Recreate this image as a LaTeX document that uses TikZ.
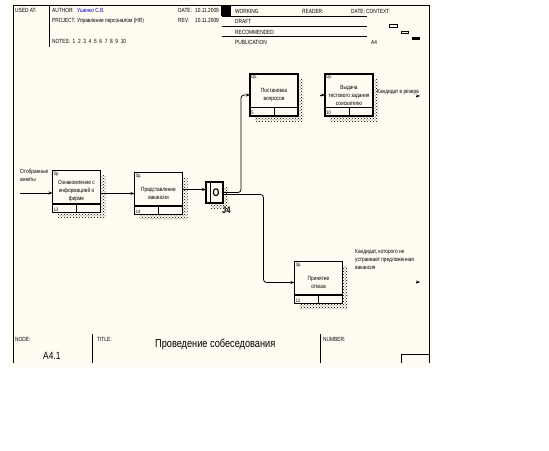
\documentclass[tikz,border=0pt]{standalone}
\usepackage{fontspec}
\newfontfamily\idef[FakeStretch=0.8]{Liberation Sans}
\usetikzlibrary{arrows.meta,calc,patterns,positioning}
\definecolor{idefCream}{RGB}{255,251,240}
\definecolor{idefBlue}{RGB}{0,0,205}
\newcommand{\boxwidth}{48pt}
\newcommand{\boxheight}{42pt}
\pgfdeclarelayer{back}
\pgfdeclarelayer{bg}
\pgfsetlayers{back,bg,main}
\tikzset{
  >={Stealth[length=4pt,width=3pt]},
  font=\idef\fontsize{6}{8}\selectfont,
  txt/.style={inner sep=0,anchor=base west},
  big/.style={txt,font=\idef\fontsize{11.5}{12}\selectfont},
  uow/.style={draw,fill=idefCream,line width=1.8pt,outer sep=0,minimum width=\boxwidth,minimum height=\boxheight,inner sep=0,align=center},
  small/.style={inner sep=1.2pt,font=\idef\fontsize{5}{5}\selectfont},
  junct/.style={draw,fill=idefCream,line width=1.8pt,outer sep=0,minimum width=17pt,minimum height=21pt,inner sep=0},
  line/.style={draw,->,line width=0.8pt,rounded corners=3pt},
  shade/.style={pattern=crosshatch dots,pattern color=black},
  frame/.style={draw,line width=1pt},
}

\begin{document}
\begin{tikzpicture}[x=1pt,y=-1pt]
    \useasboundingbox (0,0) rectangle (549,450);
    \begin{pgfonlayer}{back}
      \fill [idefCream] (11,0) rectangle (432,367);
    \end{pgfonlayer}

    % frame and header
    \path [frame] (13,363) -- (13,5) -- (429,5) -- (429,363);
    \path [frame] (49,5) -- (49,47);
    \node (usedat) [txt] at (15,12) {USED AT:};
    \node (authorlbl) [txt] at (52,12) {AUTHOR:};
    \node (author) [txt,text=idefBlue] at (77,12) {Ушенко С.В.};
    \node (projlbl) [txt] at (52,22) {PROJECT:};
    \node (proj) [txt] at (77,22) {Управление персоналом (HR)};
    \node (notes) [txt] at (52,43) {NOTES:\ \ 1\ \ 2\ \ 3\ \ 4\ \ 5\ \ 6\ \ 7\ \ 8\ \ 9\ \ 10};
    \node (datelbl) [txt] at (178,12) {DATE:};
    \node (date) [txt] at (195,12) {10.11.2009};
    \node (revlbl) [txt] at (178,22) {REV:};
    \node (rev) [txt] at (195,22) {10.11.2009};
    \fill (221,5) rectangle (231,16);
    \node (working) [txt] at (235,13) {WORKING};
    \node (draft) [txt] at (235,23) {DRAFT};
    \node (recom) [txt] at (235,34) {RECOMMENDED};
    \node (publ) [txt] at (235,44) {PUBLICATION};
    \path [frame] (222,16) -- (367,16);
    \path [frame] (222,26.5) -- (367,26.5);
    \path [frame] (222,36.5) -- (367,36.5);
    \node (reader) [txt] at (302,13) {READER:};
    \node (datectx) [txt] at (351,13) {DATE:};
    \node (context) [txt] at (366,13) {CONTEXT:};
    \node (ctxnode) [txt] at (371,44) {A4};
    \draw [line width=0.8pt] (389,24) rectangle (397,27);
    \draw [line width=0.8pt] (401,31) rectangle (408,33.5);
    \fill (412,37) rectangle (420,40);

    % footer
    \path [frame] (92,334) -- (92,363);
    \path [frame] (320,334) -- (320,363);
    \path [frame] (401,363) -- (401,354) -- (429,354);
    \node (nodelbl) [txt] at (15,341) {NODE:};
    \node (nodeval) [txt,font=\idef\fontsize{10.5}{11}\selectfont] at (43,359) {A4.1};
    \node (titlelbl) [txt] at (97,341) {TITLE:};
    \node (title) [big] at (155,347) {Проведение собеседования};
    \node (numlbl) [txt] at (323,341) {NUMBER:};

    % units of work
    \node (b1) [uow] at (76.5,191.5) {Ознакомление с\\информацией о\\фирме};
    \node (b2) [uow] at (158.5,193.5) {Представление\\вакансии};
    \node (b3) [uow] at (274,95) {Постановка\\вопросов};
    \node (b4) [uow] at (349,95) {Выдача\\тестового задания\\соискателю};
    \node (b5) [uow] at (318.5,282.5) {Принятие\\отказа};
    \node (j4) [junct] at (214.5,192.5) {};
    \node (j4o) [inner sep=0,font=\idef\bfseries\fontsize{11}{11}\selectfont] at ([xshift=1.5pt]j4.center) {O};
    \node (j4lbl) [anchor=north west,inner sep=0,font=\idef\bfseries\fontsize{9.5}{9.5}\selectfont] at ([shift={(-1pt,-3.5pt)}]j4.south east) {J4};
    \draw [line width=0.8pt] ([xshift=4pt]j4.north west) -- ([xshift=4pt]j4.south west);

    \begin{pgfonlayer}{bg}
      \foreach \n in {b1,b2,b3,b4,b5,j4}
        \fill [shade] ([shift={(5pt,-5pt)}]\n.north west) rectangle ([shift={(5pt,-5pt)}]\n.south east);
    \end{pgfonlayer}
    \foreach \n/\k in {b1/13,b2/14,b3/5,b4/10,b5/12} {
      \draw [line width=1.8pt] ([yshift=8.5pt]\n.south west) -- ([yshift=8.5pt]\n.south east);
      \draw [line width=0.8pt] ([yshift=8.5pt]\n.south) -- (\n.south);
      \node (\n-cost) [small,anchor=north west] at (\n.north west) {0р.};
      \node (\n-num) [small,anchor=south west] at (\n.south west) {\k};
    }

    % connectors
    \coordinate (in1) at (20,193);
    \coordinate (bend3) at ([xshift=-9pt]b3.west);
    \coordinate (bend5) at ([xshift=-31pt]b5.west);
    \coordinate (in4) at ([xshift=-5pt]b4.west);
    \coordinate (out4) at (420,96);
    \coordinate (out5) at (420,282);
    \path [line] (in1) -- (in1 -| b1.west);
    \path [line] (b1.east |- b2.west) -- (b2.west);
    \path [line] ([yshift=4pt]b2.east) -- ([yshift=4pt]b2.east -| j4.west);
    \path [line] (j4.east) -| (bend3) -- (b3.west);
    \path [line] ([yshift=-2pt]j4.east) -| (bend5) -- (b5.west);
    \path [line] (in4) -- (b4.west);
    \path [line] ([xshift=-4pt]out4) -- (out4);
    \path [line] ([xshift=-4pt]out5) -- (out5);

    % arrow labels
    \node (lblin) [anchor=north west,inner sep=0,align=left] at (20,169) {Отобранные\\анкеты};
    \node (lbl4) [txt] at (377,93) {Кандидат в резерв};
    \node (lbl5) [anchor=north west,inner sep=0,align=left] at (355,249) {Кандидат, которого не\\устраивает предложенная\\вакансия};
  \end{tikzpicture}
\end{document}
